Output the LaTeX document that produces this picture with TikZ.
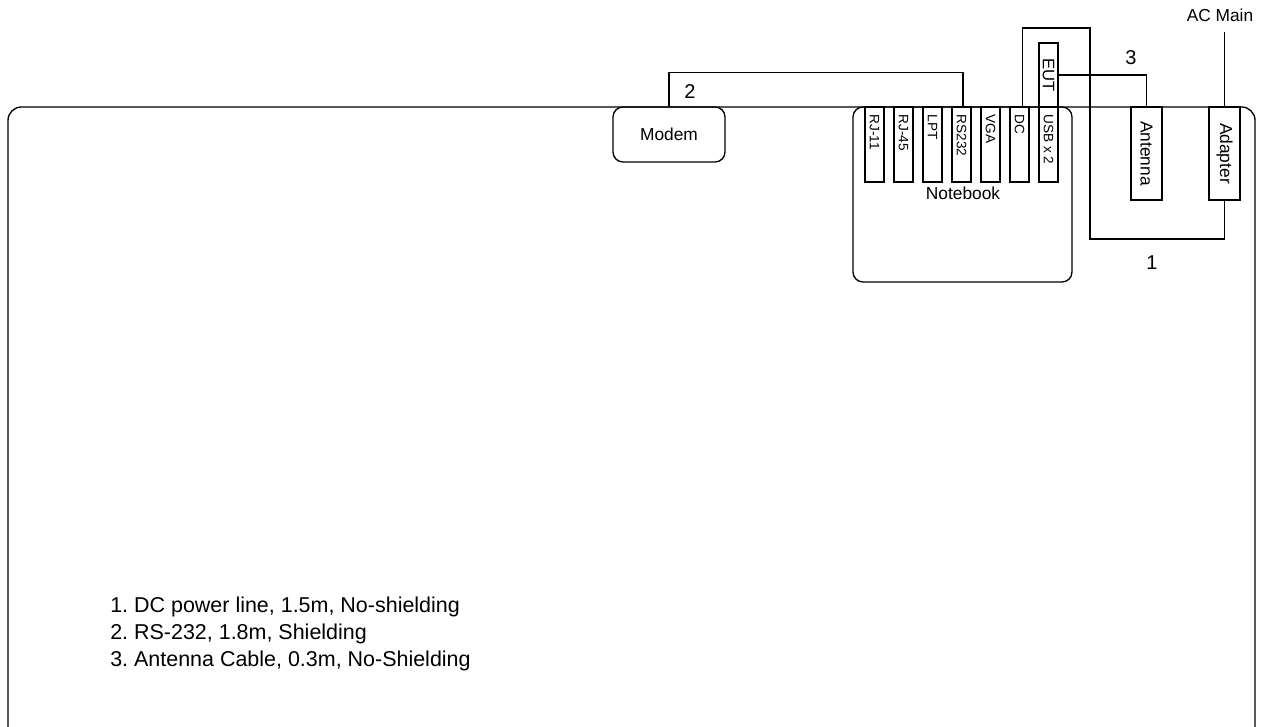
\documentclass[tikz,border=0pt]{standalone}
\usepackage{fontspec}
\setmainfont{Liberation Sans}
\begin{document}
\begin{tikzpicture}[x=0.75pt,y=0.75pt,yscale=-1,xscale=1,
    box/.style={draw,line width=1pt,inner sep=0pt,rectangle},
    portbox/.style={box,minimum width=14.25pt,minimum height=56.25pt},
    portlabel/.style={inner sep=0.75pt,rotate=-90,font=\fontsize{10.2pt}{12pt}\selectfont},
    cable/.style={line width=0.8pt},
    tag/.style={inner sep=0.75pt,font=\fontsize{13pt}{15pt}\selectfont},
    cablenum/.style={inner sep=0.75pt,font=\fontsize{15pt}{18pt}\selectfont},
    legend/.style={anchor=base west,inner sep=0pt,font=\fontsize{16.1pt}{20pt}\selectfont\frenchspacing}]
\useasboundingbox (0,0) rectangle (1263,727);

%Shape: Table frame
\draw [line width=1pt,rounded corners=10pt] (8,107) rectangle (1255,745) ;

%Shape: Notebook
\node [box,rounded corners=7.5pt,minimum width=164.25pt,minimum height=131.25pt] (notebook) at (962.5,194.5) {};
% Text Node
\node [tag] (notebook-label) at (963,193) {Notebook};

%Ports of the notebook
\foreach \n/\t [count=\i] in {rj11/RJ-11,rj45/RJ-45,lpt/LPT,rs/RS232,vga/VGA,dc/DC,usb/USB x 2}{
    \node [portbox] (port-\n) at (845.5+29*\i,144.5) {};
    \node [portlabel,anchor=west,xshift=5.25pt] at (port-\n.north) {\t};
}

%Shape: EUT
\node [box,minimum width=14.25pt,minimum height=48pt] (eut) at (1048.5,75) {};
\node [portlabel,font=\fontsize{12.5pt}{15pt}\selectfont] at (eut.center) {EUT};

%Shape: Modem
\node [box,rounded corners=7.5pt,minimum width=84pt,minimum height=41.25pt,tag] (modem) at (669,134.5) {Modem};

%Shape: Antenna
\node [box,minimum width=23.25pt,minimum height=69.75pt] (antenna) at (1146.5,153.5) {};
\node [portlabel,font=\fontsize{13pt}{15pt}\selectfont] at (antenna.center) {Antenna};

%Shape: Adapter
\node [box,minimum width=23.25pt,minimum height=69.75pt] (adapter) at (1224.5,153.5) {};
\node [portlabel,font=\fontsize{13pt}{15pt}\selectfont] at (adapter.center) {Adapter};

% Text Node
\node [tag] (acmain) at (1220,15) {AC Main};
\coordinate (acin) at (1224.5,32);

%Cable 1: DC power line
\coordinate (dc-up) at (1090,28);
\coordinate (dc-down) at (1090,239);
\draw [cable] ([xshift=1.9pt]port-dc.north) |- (dc-up) -- (dc-down) -| (adapter.south) ;
%Cable 2: RS-232
\draw [cable] ([xshift=1.1pt]port-rs.north) -- ++(0,-34) -| (modem.north) ;
%Cable 3: Antenna cable
\draw [cable] (eut.east) -| (antenna.north) ;
%AC line
\draw [cable] (acin) -- (adapter.north) ;

% Text Node
\node [cablenum] (lbl1) at (1152,263) {1};
\node [cablenum] (lbl2) at (690,92) {2};
\node [cablenum] (lbl3) at (1131,58) {3};

% Legend
\node [legend] (leg1) at (110,612) {1. DC power line, 1.5m, No-shielding};
\node [legend] (leg2) at (110,639) {2. RS-232, 1.8m, Shielding};
\node [legend] (leg3) at (110,666) {3. Antenna Cable, 0.3m, No-Shielding};
\end{tikzpicture}
\end{document}
